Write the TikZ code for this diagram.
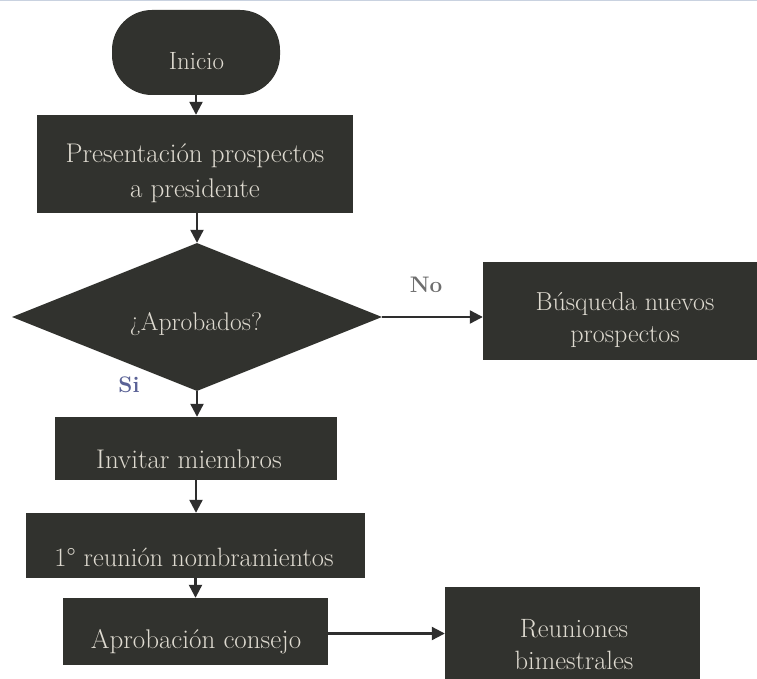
\documentclass[tikz,border=0pt]{standalone}
\usetikzlibrary{shapes.geometric,arrows.meta}

\definecolor{boxfill}{HTML}{31322E}
\definecolor{boxtext}{HTML}{DEDAD0}
\definecolor{linecol}{HTML}{2E2E2E}
\definecolor{nocol}{HTML}{6E6E6E}
\definecolor{sicol}{HTML}{5A6296}
\definecolor{edgecol}{HTML}{C9D2E0}

\begin{document}
\begin{tikzpicture}[x=1pt,y=-1pt,
  blk/.style={fill=boxfill, draw=none, inner sep=0pt},
  txt/.style={text=boxtext, align=center, inner sep=0pt,
              font=\fontsize{26.5}{34}\selectfont},
  arr/.style={draw=linecol, line width=2.2pt,
              -{Triangle[width=13pt,length=13pt]}},
  tag/.style={inner sep=0pt, font=\bfseries\fontsize{22.5}{26}\selectfont}
]
\useasboundingbox (0,0) rectangle (757,679);
\clip (0,0) rectangle (757,679);
\fill[white] (0,0) rectangle (757,679);
\draw[edgecol, line width=1pt] (0,1) -- (757,1);

% process boxes
\node[blk, rounded corners=40pt, minimum width=168pt, minimum height=85pt] (inicio) at (196,52.5) {};
\node[blk, minimum width=316pt, minimum height=98pt] (pres) at (195,164) {};
\node[blk, diamond, shape aspect=2.5, minimum width=370pt, minimum height=148pt] (dec) at (197,317) {};
\node[blk, minimum width=290pt, minimum height=98pt] (busq) at (628,311) {};
\node[blk, minimum width=282pt, minimum height=63pt] (invit) at (196,448.5) {};
\node[blk, minimum width=339pt, minimum height=65pt] (reun1) at (195.5,545.5) {};
\node[blk, minimum width=265pt, minimum height=67pt] (aprob) at (195.5,631.5) {};
\node[blk, minimum width=255pt, minimum height=120pt] (reunb) at (572.5,647) {};

% box texts
\node[txt, anchor=base, font=\fontsize{25}{29}\selectfont] (tinicio) at (196.5,70) {Inicio};
\node[txt, font=\fontsize{27}{35}\selectfont] (tpres) at (195,173.6) {Presentación prospectos\\a presidente};
\node[txt, anchor=base, font=\fontsize{25.5}{30}\selectfont] (tdec) at (196,330) {¿Aprobados?};
\node[txt, font=\fontsize{26}{32}\selectfont] (tbusq) at (625,320) {Búsqueda nuevos\\prospectos};
\node[txt, anchor=base, font=\fontsize{27}{31}\selectfont] (tinvit) at (189,468) {Invitar miembros};
\node[txt, anchor=base] (treun1) at (194,566) {1° reunión nombramientos};
\node[txt, anchor=base, font=\fontsize{27}{32}\selectfont] (taprob) at (196,648) {Aprobación consejo};
\node[txt, font=\fontsize{26.5}{32}\selectfont] (treunb) at (574,645) {Reuniones\\bimestrales};

% connectors
\draw[arr] (inicio.south) -- (inicio.south |- pres.north);
\draw[arr] (pres.north |- pres.south) ++(2,0) coordinate (ps) (ps) -- (ps |- dec.north);
\draw[arr] (dec.south) -- (dec.south |- invit.north);
\draw[arr] (dec.east) -- (dec.east -| busq.west);
\draw[arr] (invit.south) -- (invit.south |- reun1.north);
\draw[arr] (reun1.south) -- (reun1.south |- aprob.north);
\coordinate (ae) at ([yshift=-2pt]aprob.east);
\draw[arr] (ae) -- (ae -| reunb.west);

% branch labels
\node[tag, text=nocol, anchor=base] (lno) at (426,292) {No};
\node[tag, text=sicol, anchor=base] (lsi) at (129,392) {Si};
\end{tikzpicture}
\end{document}
